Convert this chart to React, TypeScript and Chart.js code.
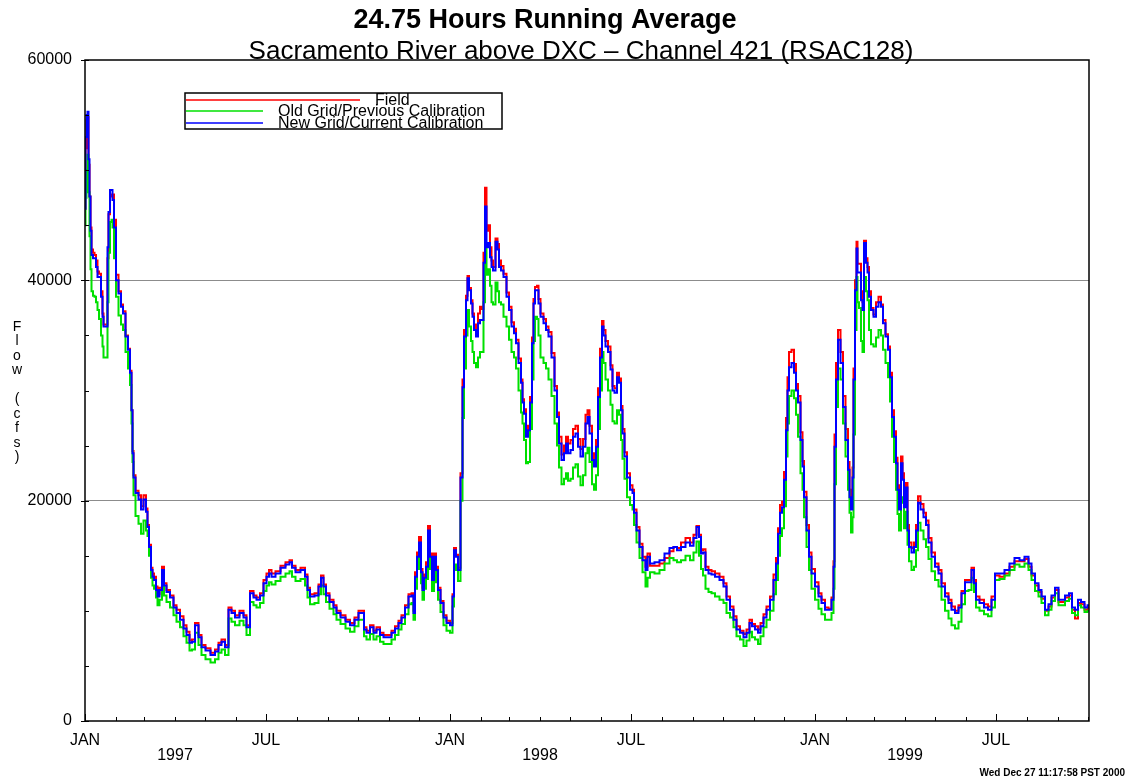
import React, { useEffect, useRef } from "react";
import { Chart, registerables } from "chart.js";

Chart.register(...registerables);

// Day offsets counted from 1 Jan 1997
const days = [
  0, 1, 2, 3, 4, 5, 6, 7, 9, 10,
  12, 13, 15, 17, 18, 19, 22, 23, 24, 26,
  27, 28, 30, 32, 35, 37, 39, 42, 44, 46,
  47, 48, 49, 52, 55, 57, 60, 62, 63, 65,
  67, 68, 70, 72, 73, 76, 78, 80, 83, 87,
  90, 93, 97, 100, 103, 106, 108, 112, 115, 118,
  123, 128, 132, 135, 138, 142, 145, 148, 152, 157,
  160, 163, 167, 170, 173, 177, 180, 183, 185, 188,
  193, 198, 203, 206, 208, 213, 218, 222, 223, 227,
  232, 235, 237, 240, 242, 247, 250, 253, 258, 263,
  267, 272, 275, 278, 280, 283, 287, 290, 293, 297,
  300, 305, 308, 312, 315, 318, 322, 325, 328, 329,
  331, 333, 335, 337, 338, 340, 342, 344, 346, 348,
  350, 352, 354, 357, 360, 363, 367, 368, 370, 372,
  374, 377, 378, 380, 382, 383, 385, 387, 388, 390,
  392, 394, 396, 398, 399, 401, 402, 404, 406, 407,
  409, 412, 413, 415, 417, 420, 423, 425, 428, 430,
  432, 435, 437, 438, 440, 442, 444, 446, 448, 449,
  451, 453, 454, 457, 460, 462, 465, 468, 471, 473,
  475, 478, 480, 482, 484, 487, 489, 492, 494, 497,
  499, 502, 503, 506, 508, 510, 512, 514, 516, 518,
  519, 522, 524, 527, 528, 531, 533, 535, 537, 538,
  541, 543, 547, 548, 550, 553, 556, 559, 562, 563,
  567, 572, 577, 582, 587, 590, 594, 598, 603, 607,
  610, 613, 615, 617, 619, 622, 625, 628, 632, 637,
  640, 643, 647, 650, 653, 657, 660, 663, 666, 668,
  672, 674, 677, 680, 683, 687, 690, 692, 694, 696,
  698, 700, 702, 703, 705, 708, 710, 712, 714, 717,
  718, 720, 723, 725, 728, 732, 735, 738, 742, 745,
  748, 749, 750, 752, 754, 757, 759, 762, 764, 765,
  767, 768, 769, 771, 772, 773, 775, 777, 778, 780,
  782, 783, 785, 787, 790, 792, 795, 797, 799, 802,
  804, 806, 808, 810, 812, 813, 815, 817, 818, 820,
  822, 823, 825, 828, 830, 832, 834, 837, 840, 842,
  845, 848, 852, 855, 858, 862, 865, 868, 872, 875,
  878, 882, 885, 888, 890, 892, 897, 901, 905, 908,
  912, 917, 922, 927, 932, 937, 942, 945, 948, 952,
  955, 958, 962, 965, 968, 972, 975, 978, 982, 986,
  988, 992, 994, 998, 1001, 1004,
];

// Field (red)
const fieldFlow = [
  46500, 52000, 54500, 54800, 50500, 47600, 44800, 42800, 42500, 42300,
  41800, 40800, 40600, 39000, 37000, 36000, 36000, 42000, 46000, 47800,
  47600, 47800, 45500, 40500, 39000, 37800, 37200, 35000, 33800, 31800,
  28200, 24500, 22300, 20900, 20500, 19500, 20500, 19300, 17800, 16000,
  13900, 13400, 13100, 12200, 11500, 12100, 14000, 12500, 11900, 11400,
  10500, 10100, 9500, 8700, 8100, 7300, 7400, 8900, 7800, 6900,
  6600, 6200, 6500, 7100, 7400, 6900, 10300, 10000, 9600, 10000,
  9600, 8700, 11800, 11400, 11200, 11600, 12800, 13400, 13700, 13400,
  13600, 14100, 14400, 14600, 14100, 13700, 13900, 13300, 12100, 11500,
  11600, 12400, 13200, 12400, 11600, 11000, 10500, 10000, 9600, 9200,
  8900, 9400, 10000, 10000, 8500, 8200, 8700, 8200, 8500, 8000,
  7800, 7800, 8200, 8600, 9100, 9600, 10500, 11500, 11600, 10000,
  13500, 15300, 16700, 13800, 12100, 13300, 14400, 17700, 15200, 13000,
  15200, 14000, 12100, 10900, 9600, 9100, 8900, 11500, 15700, 15100,
  13900, 22500, 31000, 35500, 38600, 40400, 39300, 38200, 37000, 36000,
  35200, 37000, 37600, 37400, 42500, 48400, 44500, 45000, 43000, 41800,
  41200, 43800, 43300, 41800, 41300, 40600, 38900, 37600, 36200, 35600,
  34600, 32900, 31000, 29200, 28300, 26300, 26800, 29400, 34800, 38300,
  39400, 39500, 38300, 37000, 36500, 35800, 35300, 33400, 30400, 28000,
  25800, 24200, 25000, 25800, 25200, 25500, 26500, 26800, 25600, 24700,
  25600, 27800, 28200, 26800, 24300, 23500, 25500, 30200, 33800, 36300,
  35500, 34500, 34000, 32300, 30400, 30200, 31600, 31100, 28600, 26500,
  24400, 22500, 21400, 21000, 19200, 17600, 16100, 14900, 14000, 15200,
  14100, 14100, 14300, 14800, 15400, 15800, 15700, 16200, 16600, 16200,
  16900, 17700, 16900, 15500, 15600, 14000, 13700, 13600, 13400, 13100,
  12500, 11300, 10400, 9500, 8600, 8200, 7900, 8300, 9200, 8800,
  8600, 8300, 8900, 9700, 10400, 11300, 13300, 14800, 17500, 19600,
  19900, 22600, 27500, 31200, 33500, 33700, 32400, 30600, 29500, 26200,
  23600, 20800, 17800, 15300, 13800, 12600, 11600, 11000, 10300, 10200,
  11200, 14500, 26000, 32500, 35500, 33500, 29500, 26500, 23500, 21000,
  20000, 23000, 32000, 40000, 43500, 41500, 41500, 39000, 38000, 43600,
  42000, 41200, 39000, 37500, 36900, 38000, 38500, 37800, 36400, 35100,
  34000, 31600, 28200, 26300, 23900, 21400, 19600, 24000, 22500, 20000,
  21600, 17800, 16200, 15700, 16200, 17800, 20400, 19700, 18900, 18200,
  16600, 15300, 14300, 13700, 12500, 11600, 11000, 10400, 10000, 10500,
  11800, 12800, 12800, 13900, 12800, 11300, 11000, 10600, 10400, 11300,
  13200, 13100, 13400, 14000, 14500, 14500, 14700, 14000, 13200, 12300,
  11700, 11100, 10000, 10400, 11200, 11900, 10800, 10800, 11200, 11400,
  10100, 9300, 10700, 10600, 10100, 10300,
];

// Old Grid / Previous Calibration (green)
const oldGridFlow = [
  45000, 47500, 50000, 51400, 48000, 44000, 41000, 39000, 38600, 38500,
  38000, 37300, 36500, 35000, 34000, 33000, 33000, 38000, 42500, 45300,
  45500, 44800, 42000, 38500, 36800, 36000, 35500, 33500, 32000, 30500,
  27000, 23500, 20500, 18600, 17900, 17000, 18200, 17300, 16800, 15000,
  13000, 12300, 12000, 11200, 10500, 11000, 12800, 11400, 10800, 10300,
  9600, 9000, 8500, 7700, 7100, 6400, 6500, 8000, 6900, 6000,
  5600, 5300, 5600, 6200, 6500, 6000, 9300, 9000, 8700, 9100,
  8700, 7800, 10800, 10500, 10300, 10700, 11800, 12300, 12600, 12400,
  12700, 13100, 13400, 13600, 13100, 12700, 12900, 12300, 11200, 10600,
  10700, 11500, 12300, 11500, 10800, 10200, 9700, 9200, 8800, 8400,
  8100, 8600, 9200, 9200, 7700, 7400, 7900, 7400, 7700, 7200,
  7000, 7000, 7400, 7800, 8300, 8800, 9700, 10600, 10700, 9200,
  12000, 13800, 14800, 12500, 11000, 12000, 12900, 15800, 13800, 11800,
  13800, 12600, 11000, 9900, 8700, 8200, 8000, 10400, 14200, 13700,
  12700, 20000, 27500, 32000, 35000, 37300, 35800, 34500, 33500, 32500,
  32100, 33000, 33500, 33500, 38000, 43400, 40500, 41000, 39500, 38000,
  37800, 39800, 39000, 38000, 37800, 36700, 35800, 34600, 33500, 33000,
  32000, 30000, 28000, 27000, 25500, 23400, 23500, 26500, 31000, 34500,
  36700, 36500, 35000, 33000, 32500, 32000, 31000, 29500, 27000, 25000,
  23000, 21500, 22000, 22500, 21800, 22000, 23000, 23300, 22200, 21400,
  22300, 24300, 24800, 23500, 21500, 21000, 22300, 26500, 30000, 33500,
  32500, 31000, 30000, 28700, 27200, 27000, 28200, 27800, 25500, 23800,
  22000, 20300, 19600, 19200, 17800, 16200, 14800, 13500, 12200, 13000,
  13500, 13400, 13700, 14300, 14800, 14600, 14400, 14600, 15000, 14600,
  15300, 16300, 15000, 13800, 13200, 12000, 11700, 11600, 11300, 11000,
  10700, 9800, 9400, 8500, 7700, 7400, 6800, 7300, 8100, 7600,
  7400, 7000, 7700, 8500, 9200, 10000, 11500, 12800, 15000, 16800,
  17500, 19500, 24000, 27000, 29500, 30000, 29300, 27800, 25800, 22500,
  21000, 18500, 15800, 13700, 12000, 11000, 10200, 9700, 9200, 9200,
  9800, 12000, 21500, 28500, 32000, 31000, 27000, 24000, 21000, 18900,
  17100, 18500, 26000, 35500, 40300, 38000, 37500, 34500, 33500, 40300,
  39000, 38200, 35500, 34200, 34000, 34800, 35500, 35000, 33700, 32500,
  31200, 29000, 25800, 23500, 21000, 18800, 17300, 19800, 20300, 17500,
  19000, 16000, 14500, 13700, 14000, 15500, 18000, 17300, 16500, 15800,
  14700, 13600, 12800, 12200, 11000, 10000, 9300, 8700, 8400, 9000,
  10600, 11800, 11900, 13000, 11700, 10300, 10000, 9700, 9500, 10300,
  12800, 12900, 13200, 13700, 14200, 14000, 14300, 13700, 12800, 11800,
  11300, 10700, 9600, 10100, 10900, 11600, 10500, 10500, 10900, 11100,
  9800, 9600, 10500, 10300, 9900, 10000,
];

// New Grid / Current Calibration (blue)
const newGridFlow = [
  46500, 53000, 55000, 55300, 51000, 47600, 44500, 42300, 42000, 42000,
  41200, 40300, 40300, 38500, 36700, 35800, 35800, 43000, 46200, 48200,
  48200, 47300, 44800, 40000, 38800, 37600, 37000, 34900, 33700, 31600,
  28200, 24300, 22100, 20700, 20100, 19200, 20100, 19000, 17600, 15800,
  13700, 13100, 12800, 11900, 11300, 11900, 13700, 12300, 11700, 11200,
  10300, 9800, 9200, 8400, 7800, 7100, 7200, 8700, 7600, 6700,
  6400, 6000, 6300, 6900, 7200, 6700, 10100, 9800, 9400, 9800,
  9400, 8500, 11600, 11200, 11000, 11400, 12500, 13100, 13400, 13100,
  13400, 13900, 14200, 14400, 13900, 13500, 13700, 13100, 11900, 11300,
  11400, 12200, 13000, 12200, 11400, 10800, 10300, 9800, 9400, 9000,
  8700, 9200, 9800, 9800, 8300, 8000, 8500, 8000, 8300, 7800,
  7600, 7600, 8000, 8400, 8900, 9400, 10300, 11300, 11400, 9800,
  13100, 14900, 16200, 13500, 11900, 13000, 14000, 17300, 14900, 12800,
  14900, 13700, 11900, 10700, 9400, 8900, 8700, 11300, 15500, 14900,
  13700, 22100, 30300, 34900, 38200, 40200, 39100, 37900, 36700, 35500,
  34900, 36100, 36400, 36400, 41600, 46700, 43000, 43400, 42100, 41200,
  40900, 43500, 42800, 41200, 40900, 40300, 38500, 37300, 35800, 35200,
  34300, 32500, 30700, 28900, 27900, 25800, 26400, 28900, 34300, 37900,
  39100, 39100, 37900, 36700, 36100, 35500, 34900, 33000, 30000, 27600,
  25200, 23700, 24300, 25200, 24300, 24600, 25800, 26100, 24900, 24000,
  24900, 27000, 27600, 26100, 23700, 23100, 24900, 29400, 33000, 35800,
  35000, 34000, 33500, 31900, 30000, 29800, 31200, 30700, 28200, 26100,
  24000, 22100, 21000, 20700, 18900, 17300, 15800, 14600, 13700, 14900,
  14300, 14400, 14600, 15200, 15700, 15800, 15500, 15800, 16200, 15900,
  16600, 17600, 16700, 15200, 15300, 13700, 13400, 13300, 13100, 12800,
  12200, 11000, 10100, 9200, 8300, 8000, 7600, 8000, 8900, 8600,
  8300, 8000, 8600, 9400, 10100, 11000, 12800, 14300, 17000, 18900,
  19400, 21900, 26400, 30000, 32100, 32500, 31600, 30000, 28900, 25500,
  23100, 20300, 17300, 14900, 13400, 12200, 11300, 10700, 10100, 10100,
  11000, 14000, 24900, 31000, 34600, 32500, 28500, 25500, 22800, 20300,
  19200, 22100, 31000, 39100, 42900, 40700, 40700, 38200, 37300, 43400,
  41600, 40700, 38500, 37300, 36700, 37600, 38000, 37600, 36100, 34900,
  33700, 31200, 27600, 25800, 23400, 21000, 19200, 23400, 21900, 19400,
  21200, 17300, 15800, 15300, 15800, 17300, 19800, 19200, 18500, 17800,
  16200, 14900, 14000, 13400, 12200, 11300, 10700, 10100, 9800, 10300,
  11600, 12600, 12600, 13700, 12500, 11000, 10700, 10300, 10100, 11000,
  13400, 13400, 13700, 14300, 14800, 14600, 14900, 14300, 13400, 12500,
  11900, 11300, 10100, 10600, 11400, 12100, 11000, 11000, 11400, 11600,
  10300, 10100, 11000, 10800, 10300, 10500,
];

const seriesLabels = ["Field", "Old Grid/Previous Calibration", "New Grid/Current Calibration"];
const seriesColors = ["#ff0000", "#00e000", "#0000ff"];
const yearLabels = ["1997", "1998", "1999"];
const monthLabels = ["JAN", "", "", "", "", "", "JUL", "", "", "", "", ""];
const titleText = "24.75 Hours Running Average";
const subtitleText = "Sacramento River above DXC \u2013 Channel 421 (RSAC128)";
const yAxisTitle = "Flow (cfs)";
const stampText = "Wed Dec 27 11:17:58 PST 2000";
const startYear = 1997;
const endDay = 1004;
const yMax = 60000;
const yMajorStep = 20000;
const yMinorStep = 5000;

const FONT = "'Liberation Sans', Arial, Helvetica, sans-serif";

type MonthTick = { day: number; label: string | string[]; major: boolean };

function buildMonthTicks(): MonthTick[] {
  const start = Date.UTC(startYear, 0, 1);
  const out: MonthTick[] = [];
  yearLabels.forEach((yl, yi) => {
    for (let m = 0; m < 12; m++) {
      const day = Math.round((Date.UTC(startYear + yi, m, 1) - start) / 86400000);
      if (day > endDay) continue;
      let label: string | string[] = monthLabels[m];
      if (m === 3) label = ["", yl];
      out.push({ day, label, major: monthLabels[m] !== "" });
    }
  });
  return out;
}

export default function App() {
  const canvasRef = useRef<HTMLCanvasElement | null>(null);

  useEffect(() => {
    document.body.style.margin = "0";
    const canvas = canvasRef.current;
    if (!canvas) return;
    const monthTicks = buildMonthTicks();

    const decor = {
      id: "decor",
      afterDatasetsDraw(chart: any) {
        const { ctx, chartArea: a, scales } = chart;
        const xs = scales.x;
        const ys = scales.y;
        ctx.save();
        ctx.strokeStyle = "#000";
        ctx.lineWidth = 1;
        // y minor ticks (inward)
        for (let v = 0; v <= yMax; v += yMinorStep) {
          const py = Math.round(ys.getPixelForValue(v)) + 0.5;
          ctx.beginPath();
          ctx.moveTo(a.left, py);
          ctx.lineTo(a.left + 4, py);
          ctx.stroke();
          if (v % yMajorStep === 0) {
            ctx.beginPath();
            ctx.moveTo(a.left - 4, py);
            ctx.lineTo(a.left, py);
            ctx.stroke();
          }
        }
        // x month ticks (inward)
        monthTicks.forEach((t) => {
          const px = Math.round(xs.getPixelForValue(t.day)) + 0.5;
          ctx.beginPath();
          ctx.moveTo(px, a.bottom);
          ctx.lineTo(px, a.bottom - (t.major ? 7 : 4));
          ctx.stroke();
        });
        // frame
        ctx.lineWidth = 1.5;
        ctx.strokeRect(a.left, a.top, a.right - a.left, a.bottom - a.top);
        ctx.restore();
      },
      afterDraw(chart: any) {
        const { ctx } = chart;
        ctx.save();
        ctx.fillStyle = "#000";
        ctx.textAlign = "center";
        ctx.textBaseline = "alphabetic";
        ctx.font = `bold 27px ${FONT}`;
        ctx.fillText(titleText, 545, 28);
        ctx.font = `26px ${FONT}`;
        ctx.fillText(subtitleText, 581, 59);

        // y axis title, one character per line
        ctx.font = `14px ${FONT}`;
        ctx.textBaseline = "middle";
        Array.from(yAxisTitle).forEach((ch, i) => {
          ctx.fillText(ch, 17, 327 + i * 14.5);
        });

        // legend
        const box = { x: 185, y: 93, w: 317, h: 36 };
        ctx.fillStyle = "#fff";
        ctx.fillRect(box.x, box.y, box.w, box.h);
        const rows = [
          { y: 100, x2: 360, tx: 375 },
          { y: 111, x2: 263, tx: 278 },
          { y: 123, x2: 263, tx: 278 },
        ];
        ctx.font = `16px ${FONT}`;
        ctx.textAlign = "left";
        chart.data.datasets.forEach((ds: any, i: number) => {
          const r = rows[i];
          ctx.strokeStyle = ds.borderColor;
          ctx.lineWidth = 1.5;
          ctx.beginPath();
          ctx.moveTo(box.x + 1, r.y);
          ctx.lineTo(r.x2, r.y);
          ctx.stroke();
          ctx.fillStyle = "#000";
          ctx.fillText(ds.label, r.tx, r.y + 1);
        });
        ctx.strokeStyle = "#000";
        ctx.lineWidth = 1.5;
        ctx.strokeRect(box.x, box.y, box.w, box.h);

        // stamp
        ctx.font = `bold 10px ${FONT}`;
        ctx.textAlign = "right";
        ctx.fillText(stampText, 1125, 773);
        ctx.restore();
      },
    };

    const makeData = (vals: number[]) => days.map((d, i) => ({ x: d, y: vals[i] }));

    const chart = new Chart(canvas, {
      type: "line",
      data: {
        datasets: [
          {
            label: seriesLabels[0],
            data: makeData(fieldFlow),
            borderColor: seriesColors[0],
            backgroundColor: seriesColors[0],
            borderWidth: 2,
            order: 2,
          },
          {
            label: seriesLabels[1],
            data: makeData(oldGridFlow),
            borderColor: seriesColors[1],
            backgroundColor: seriesColors[1],
            borderWidth: 2,
            order: 1,
          },
          {
            label: seriesLabels[2],
            data: makeData(newGridFlow),
            borderColor: seriesColors[2],
            backgroundColor: seriesColors[2],
            borderWidth: 2,
            order: 0,
          },
        ],
      },
      options: {
        responsive: false,
        animation: false,
        layout: { padding: { top: 60, right: 38, bottom: 0, left: 0 } },
        elements: {
          point: { radius: 0, hoverRadius: 0 },
          line: { tension: 0, stepped: "middle" },
        },
        plugins: {
          legend: { display: false },
          title: { display: false },
          tooltip: { enabled: false },
        },
        scales: {
          x: {
            type: "linear",
            min: 0,
            max: endDay,
            grid: { display: false },
            border: { display: false },
            afterBuildTicks: (s: any) => {
              s.ticks = monthTicks.map((t) => ({ value: t.day }));
            },
            afterFit: (s: any) => {
              s.height = 58;
            },
            ticks: {
              autoSkip: false,
              maxRotation: 0,
              minRotation: 0,
              padding: 4,
              color: "#000",
              font: { family: FONT, size: 16, lineHeight: 0.95 },
              callback: (value: any) => {
                const t = monthTicks.find((m) => m.day === value);
                return t ? t.label : "";
              },
            },
          },
          y: {
            min: 0,
            max: yMax,
            grid: {
              drawTicks: false,
              lineWidth: 1,
              color: (c: any) =>
                c.tick && c.tick.value > 0 && c.tick.value < yMax ? "#8c8c8c" : "rgba(0,0,0,0)",
            },
            border: { display: false },
            afterFit: (s: any) => {
              s.width = 85;
            },
            ticks: {
              stepSize: yMajorStep,
              padding: 13,
              color: "#000",
              font: { family: FONT, size: 16 },
              callback: (v: any) => String(v),
            },
          },
        },
      },
      plugins: [decor],
    } as any);

    return () => chart.destroy();
  }, []);

  return (
    <div style={{ width: 1127, height: 779, background: "#fff" }}>
      <canvas ref={canvasRef} width={1127} height={779} style={{ display: "block" }} />
    </div>
  );
}
